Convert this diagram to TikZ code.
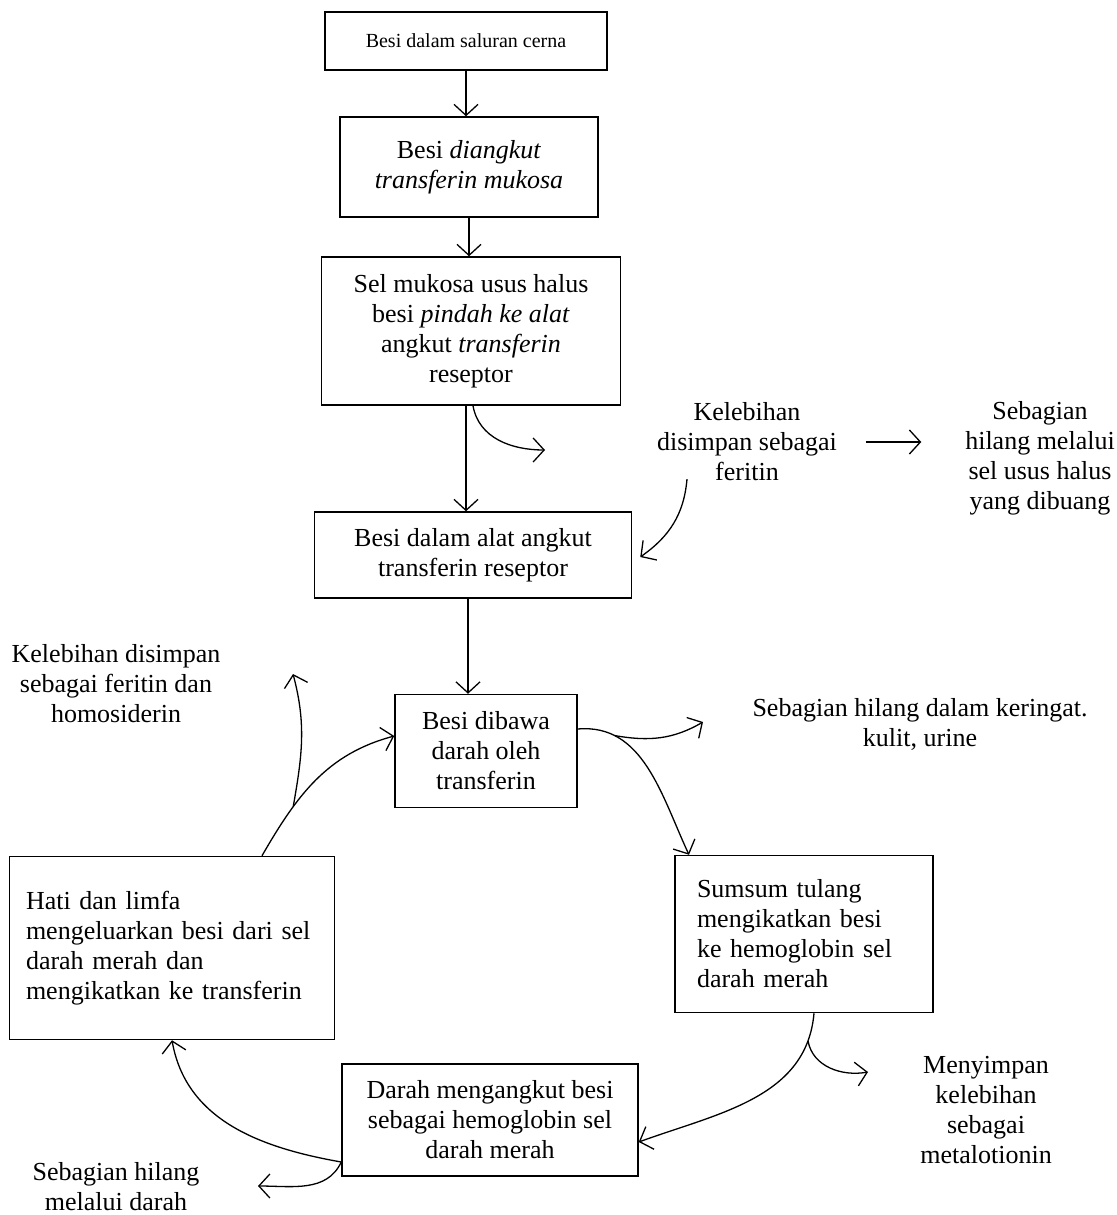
\documentclass[tikz,border=0pt]{standalone}
\usepackage{fontspec}
\setmainfont{Liberation Serif}
\usetikzlibrary{shapes,arrows.meta,positioning}

\begin{document}
\begin{tikzpicture}[x=1pt, y=-1pt, line width=1.3pt, >={Straight Barb[length=11pt,width=24pt]}]
    % Define styles
    \tikzstyle{process} = [rectangle, draw=black, line width=1.5pt, align=center, font=\fontsize{26}{30}\selectfont]
    \tikzstyle{smallprocess} = [process, font=\fontsize{20}{24}\selectfont]
    \tikzstyle{leftprocess} = [process, align=left]
    \tikzstyle{note} = [align=center, font=\fontsize{26}{30}\selectfont]

    \useasboundingbox (0,0) rectangle (1116,1215);

    % Nodes
    \node[smallprocess, minimum width=282pt, minimum height=58pt] (saluran) at (466,41) {Besi dalam saluran cerna};
    \node[process, minimum width=258pt, minimum height=100pt] (diangkut) at (469,167) {Besi \textit{diangkut}\\\textit{transferin mukosa}};
    \node[process, minimum width=299pt, minimum height=148pt] (mukosa) at (471,331) {Sel mukosa usus halus\\besi \textit{pindah ke alat}\\angkut \textit{transferin}\\reseptor};
    \node[process, minimum width=317pt, minimum height=86pt] (reseptor) at (473,555) {Besi dalam alat angkut\\transferin reseptor};
    \node[process, minimum width=182pt, minimum height=113pt] (dibawa) at (486,751) {Besi dibawa\\darah oleh\\transferin};
    \node[leftprocess, minimum width=258pt, minimum height=157pt, text width=214pt] (sumsum) at (804,934) {Sumsum tulang\\mengikatkan besi\\ke hemoglobin sel\\darah merah};
    \node[leftprocess, minimum width=325pt, minimum height=183pt, text width=292pt] (hati) at (172,948) {Hati dan limfa\\mengeluarkan besi dari sel\\darah merah dan\\mengikatkan ke transferin};
    \node[process, minimum width=296pt, minimum height=112pt] (hemoglobin) at (490,1120) {Darah mengangkut besi\\sebagai hemoglobin sel\\darah merah};

    \node[note] (feritin) at (747,442) {Kelebihan\\disimpan sebagai\\feritin};
    \node[note] (dibuang) at (1040,458) {Sebagian\\hilang melalui\\sel usus halus\\yang dibuang};
    \node[note] (homosiderin) at (116,684) {Kelebihan disimpan\\sebagai feritin dan\\homosiderin};
    \node[note] (keringat) at (920,724) {Sebagian hilang dalam keringat.\\kulit, urine};
    \node[note] (metalotionin) at (986,1110) {Menyimpan\\kelebihan\\sebagai\\metalotionin};
    \node[note] (hilangdarah) at (116,1187) {Sebagian hilang\\melalui darah};

    \coordinate (tipferitin) at (545,450);
    \coordinate (tipkeringat) at (703,722);
    \coordinate (tipmetal) at (868,1072);
    \coordinate (tiphomo) at (293,674);
    \coordinate (tipdarah) at (258,1186);

    % Connections
    \draw[->] (saluran) -- (saluran |- diangkut.north);
    \draw[->] (diangkut) -- (diangkut |- mukosa.north);
    \draw[->] ([xshift=-5pt]mukosa.south) -- ([xshift=-5pt]mukosa.south |- reseptor.north);
    \draw[->] ([xshift=2pt]mukosa.south) to[out=-80,in=180] (tipferitin);
    \draw[->] ([xshift=-60pt,yshift=6pt]feritin.south) to[out=-95,in=35] ([xshift=8pt,yshift=-2pt]reseptor.east);
    \draw[->, shorten <=25pt, shorten >=40pt] (feritin.east) -- (feritin.east -| dibuang.west);
    \draw[->] ([xshift=-5pt]reseptor.south) -- ([xshift=-5pt]reseptor.south |- dibawa.north);
    \draw[->] ([yshift=22pt]dibawa.east) to[out=5,in=115] coordinate[pos=0.22] (forkkeringat) ([xshift=-115pt]sumsum.north);
    \draw[->] (forkkeringat) to[out=-10,in=210] (tipkeringat);
    \draw[->] ([xshift=10pt]sumsum.south) to[out=-95,in=20] coordinate[pos=0.12] (forkmetal) ([yshift=-22pt]hemoglobin.east);
    \draw[->] (forkmetal) to[out=-80,in=190] (tipmetal);
    \draw[->] ([xshift=90pt]hati.north) to[out=60,in=195] coordinate[pos=0.3] (forkhomo) ([yshift=15pt]dibawa.west);
    \draw[->] (forkhomo) to[out=80,in=-75] (tiphomo);
    \draw[->] ([yshift=-42pt]hemoglobin.west) to[out=170,in=-80] ([xshift=0pt]hati.south);
    \draw[->] ([yshift=-42pt]hemoglobin.west) to[out=-115,in=0] (tipdarah);
\end{tikzpicture}
\end{document}
